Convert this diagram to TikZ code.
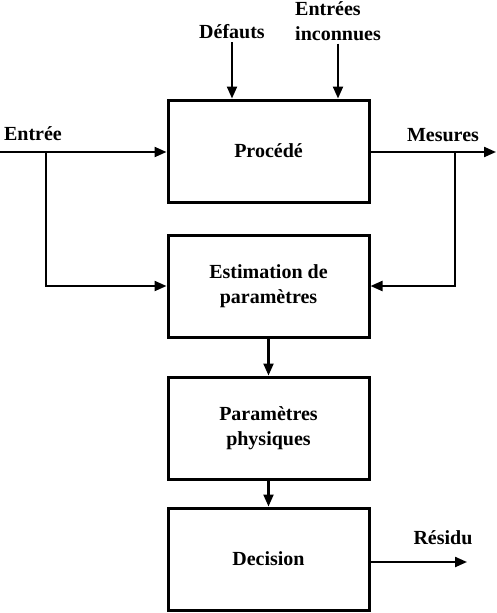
\documentclass[tikz,border=0pt]{standalone}
\usepackage{fontspec}
\setmainfont{Liberation Serif}
\usetikzlibrary{arrows.meta}

\begin{document}
\begin{tikzpicture}[x=1pt,y=-1pt,line width=2.2pt,
  font=\fontsize{20}{25}\selectfont\bfseries,
  >={Triangle[length=12pt,width=10pt]},
  bloc/.style={draw,line width=3pt,minimum width=201pt,minimum height=102pt,align=center},
  etiq/.style={inner sep=2pt}]
\useasboundingbox (0,0) rectangle (496,613);

\node[bloc] (proc) at (268.5,151) {Procédé};
\node[bloc] (estim) at (268.5,286) {Estimation de\\paramètres};
\node[bloc] (param) at (268.5,428) {Paramètres\\physiques};
\node[bloc] (dec) at (268.5,559) {Decision};

\node[etiq,anchor=west] (entree) at (1,134) {Entrée};
\node[etiq] (mesures) at (443,135) {Mesures};
\node[etiq] (defauts) at (232,32) {Défauts};
\node[etiq,align=left] (inconnues) at (338,21) {Entrées\\inconnues};
\node[etiq] (residu) at (443,538) {Résidu};

\coordinate (in) at (0,152);
\coordinate (out) at (496,152);
\coordinate (e1) at (46,152);
\coordinate (m1) at (455,152);
\coordinate (res) at (467,562);

\draw[->] (in) -- (in -| proc.west);
\draw[->] (e1) |- (estim.west);
\draw[->] (out -| proc.east) -- (out);
\draw[->] (m1) |- (estim.east);
\draw[->] (defauts.south) -- (defauts.south |- proc.north);
\draw[->] (inconnues.south) -- (inconnues.south |- proc.north);
\draw[->] (estim) -- (param);
\draw[->] (param) -- (dec);
\draw[->] (dec.east |- res) -- (res);
\end{tikzpicture}
\end{document}
